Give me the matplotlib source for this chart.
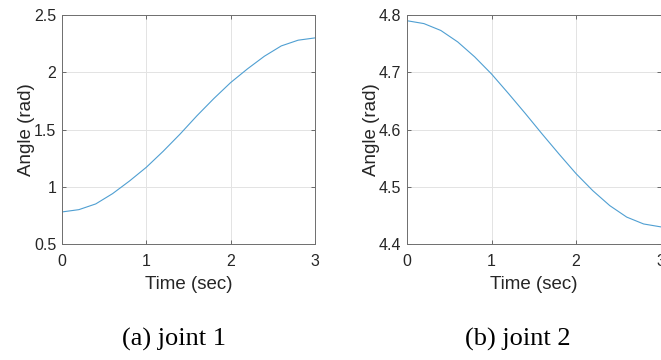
import matplotlib
matplotlib.use("Agg")
import matplotlib.pyplot as plt

# trajectory samples (every 0.2 s)
t = [0.0, 0.2, 0.4, 0.6, 0.8, 1.0, 1.2, 1.4, 1.6, 1.8, 2.0, 2.2, 2.4, 2.6, 2.8, 3.0]
joint1 = [0.78, 0.80, 0.85, 0.94, 1.05, 1.17, 1.31, 1.46, 1.62, 1.77, 1.91, 2.03, 2.14, 2.23, 2.28, 2.30]
joint2 = [4.790, 4.785, 4.773, 4.753, 4.727, 4.697, 4.663, 4.628, 4.592, 4.557,
          4.523, 4.493, 4.467, 4.447, 4.435, 4.430]

ylims = [(0.5, 2.5), (4.4, 4.8)]
yticks = [[0.5, 1, 1.5, 2, 2.5], [4.4, 4.5, 4.6, 4.7, 4.8]]
ytick_labels = [["0.5", "1", "1.5", "2", "2.5"], ["4.4", "4.5", "4.6", "4.7", "4.8"]]
captions = ["(a) joint 1", "(b) joint 2"]

line_color = "#4f9fd2"
sans = ["Liberation Sans", "DejaVu Sans"]

fig = plt.figure(figsize=(6.61, 3.6), dpi=100)
positions = [[62 / 661, 116 / 360, 253 / 661, 229 / 360],
             [407 / 661, 116 / 360, 253.5 / 661, 229 / 360]]
caption_x = [174 / 661, 518 / 661]

for i, data in enumerate([joint1, joint2]):
    ax = fig.add_axes(positions[i])
    ax.plot(t, data, color=line_color, linewidth=0.8)
    ax.set_xlim(0, 3)
    ax.set_ylim(*ylims[i])
    ax.set_xticks([0, 1, 2, 3])
    ax.set_xticklabels(["0", "1", "2", "3"], family=sans, fontsize=11.5, color="#262626")
    ax.set_yticks(yticks[i])
    ax.set_yticklabels(ytick_labels[i], family=sans, fontsize=11.5, color="#262626")
    ax.grid(True, color="#e3e3e3", linewidth=0.7)
    ax.set_axisbelow(True)
    ax.tick_params(direction="in", length=3, width=0.6, color="#555555",
                   top=True, right=True)
    ax.tick_params(axis="x", pad=7)
    ax.tick_params(axis="y", pad=4)
    for s in ax.spines.values():
        s.set_color("#6e6e6e")
        s.set_linewidth(0.7)
    ax.set_xlabel("Time (sec)", family=sans, fontsize=13.5, color="#262626", labelpad=5)
    ax.set_ylabel("Angle (rad)", family=sans, fontsize=13.5, color="#262626", labelpad=-0.5)
    fig.text(caption_x[i], 1 - 339 / 360, captions[i], family=["Liberation Serif"],
             fontsize=19, ha="center", va="center", color="black")

fig.savefig("out.png", dpi=100)
